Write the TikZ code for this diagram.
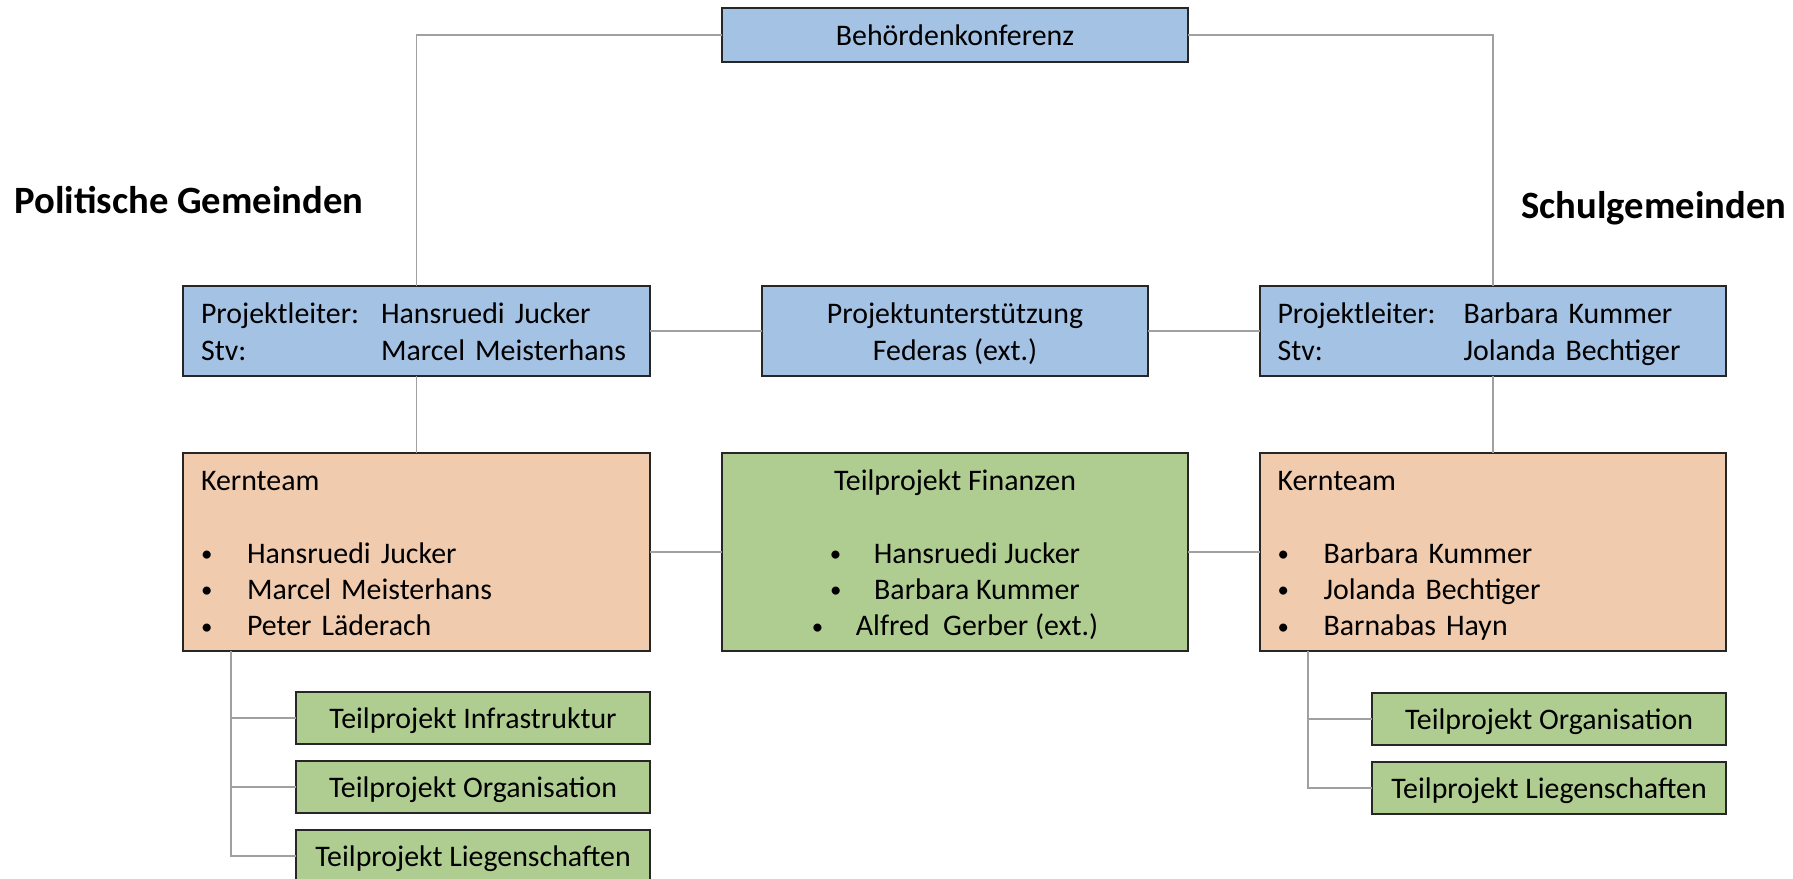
\documentclass[tikz,border=0pt]{standalone}
\usepackage{fontspec}
\setmainfont{Carlito}
\usepackage{tikz}
\usetikzlibrary{positioning}
\definecolor{boxblue}{RGB}{163,194,228}
\definecolor{boxpeach}{RGB}{241,203,174}
\definecolor{boxgreen}{RGB}{176,205,145}
\definecolor{linegray}{RGB}{160,160,160}
\newcommand{\bul}{\raisebox{1pt}{\fontsize{13}{13}\selectfont\textbullet}}
\newcommand{\topstrut}{\rule{0pt}{19pt}}
\tikzset{base node/.style={rectangle,draw=black!85,line width=1.1pt,inner sep=0pt,outer sep=0pt},
  blue node/.style={base node,fill=boxblue,minimum height=1.8cm,font=\fontsize{17}{21.6}\selectfont},
  core node/.style={base node,fill=boxpeach,minimum width=9.34cm,minimum height=3.96cm,font=\fontsize{17}{20.7}\selectfont},
  sub node/.style={base node,fill=boxgreen,minimum width=7.08cm,minimum height=1.04cm,text height=16pt,text depth=4pt,font=\fontsize{17}{20}\selectfont},
  link/.style={draw=linegray,line width=1.1pt},
  title node/.style={font=\fontsize{22}{26}\selectfont\bfseries,inner sep=0pt}}

\begin{document}
\begin{tikzpicture}[x=0.02cm,y=-0.02cm]
            \useasboundingbox (0,0) rectangle (1793,879);

            \node[title node, anchor=base west] (polG) at (14,213) {Politische Gemeinden};
            \node[title node, anchor=base west] (schulG) at (1521,218) {Schulgemeinden};

            \node[blue node, minimum width=9.32cm, minimum height=1.08cm] (bk) at (955,35) {Behördenkonferenz};

            \node[blue node, minimum width=9.34cm, text width=8.62cm, align=left] (plL) at (416.5,331)
              {\begin{tabular}{@{}p{3.6cm}@{}l@{}}\topstrut Projektleiter: & Hansruedi Jucker\\ Stv: & Marcel Meisterhans\end{tabular}};
            \node[blue node, minimum width=7.72cm, align=center] (pu) at (955,331)
              {\begin{tabular}{@{}c@{}}\topstrut Projektunterstützung\\ Federas (ext.)\end{tabular}};
            \node[blue node, minimum width=9.32cm, text width=8.62cm, align=left] (plR) at (1493,331)
              {\begin{tabular}{@{}p{3.72cm}@{}l@{}}\topstrut Projektleiter: & Barbara Kummer\\ Stv: & Jolanda Bechtiger\end{tabular}};

            \node[core node, text width=8.62cm, align=left] (ktL) at (416.5,552)
              {\begin{tabular}{@{}p{0.92cm}@{}l@{}}\multicolumn{2}{@{}l@{}}{\topstrut Kernteam}\\ & \\
               \bul & Hansruedi Jucker\\ \bul & Marcel Meisterhans\\ \bul & Peter Läderach\end{tabular}};
            \node[core node, fill=boxgreen, minimum width=9.32cm] (tf) at (955,552)
              {\begin{tabular}{@{}c@{}}\topstrut Teilprojekt Finanzen\\ \\
               \makebox[0.88cm][l]{\bul}Hansruedi Jucker\\ \makebox[0.88cm][l]{\bul}Barbara Kummer\\
               \makebox[0.88cm][l]{\bul}Alfred~ Gerber (ext.)\end{tabular}};
            \node[core node, minimum width=9.32cm, text width=8.62cm, align=left] (ktR) at (1493,552)
              {\begin{tabular}{@{}p{0.92cm}@{}l@{}}\multicolumn{2}{@{}l@{}}{\topstrut Kernteam}\\ & \\
               \bul & Barbara Kummer\\ \bul & Jolanda Bechtiger\\ \bul & Barnabas Hayn\end{tabular}};

            \node[sub node] (infraL) at (473,718) {Teilprojekt Infrastruktur};
            \node[sub node] (orgL) [below = 0.34cm of infraL] {Teilprojekt Organisation};
            \node[sub node] (liegL) [below = 0.34cm of orgL] {Teilprojekt Liegenschaften};

            \node[sub node] (orgR) at (1549,719) {Teilprojekt Organisation};
            \node[sub node] (liegR) [below = 0.34cm of orgR] {Teilprojekt Liegenschaften};

            \coordinate (trunkL) at ([xshift=0.96cm]ktL.south west);
            \coordinate (trunkR) at ([xshift=0.96cm]ktR.south west);

            \draw[link] (bk) -| (plL);
            \draw[link] (bk) -| (plR);

            \path[link]
            (plL) edge (pu)
            (pu) edge (plR)
            (plL) edge (ktL)
            (plR) edge (ktR)
            (ktL) edge (tf)
            (tf) edge (ktR);

            \draw[link] (trunkL) |- (liegL);
            \draw[link] (trunkL) |- (orgL);
            \draw[link] (trunkL) |- (infraL);
            \draw[link] (trunkR) |- (liegR);
            \draw[link] (trunkR) |- (orgR);
        \end{tikzpicture}
\end{document}
